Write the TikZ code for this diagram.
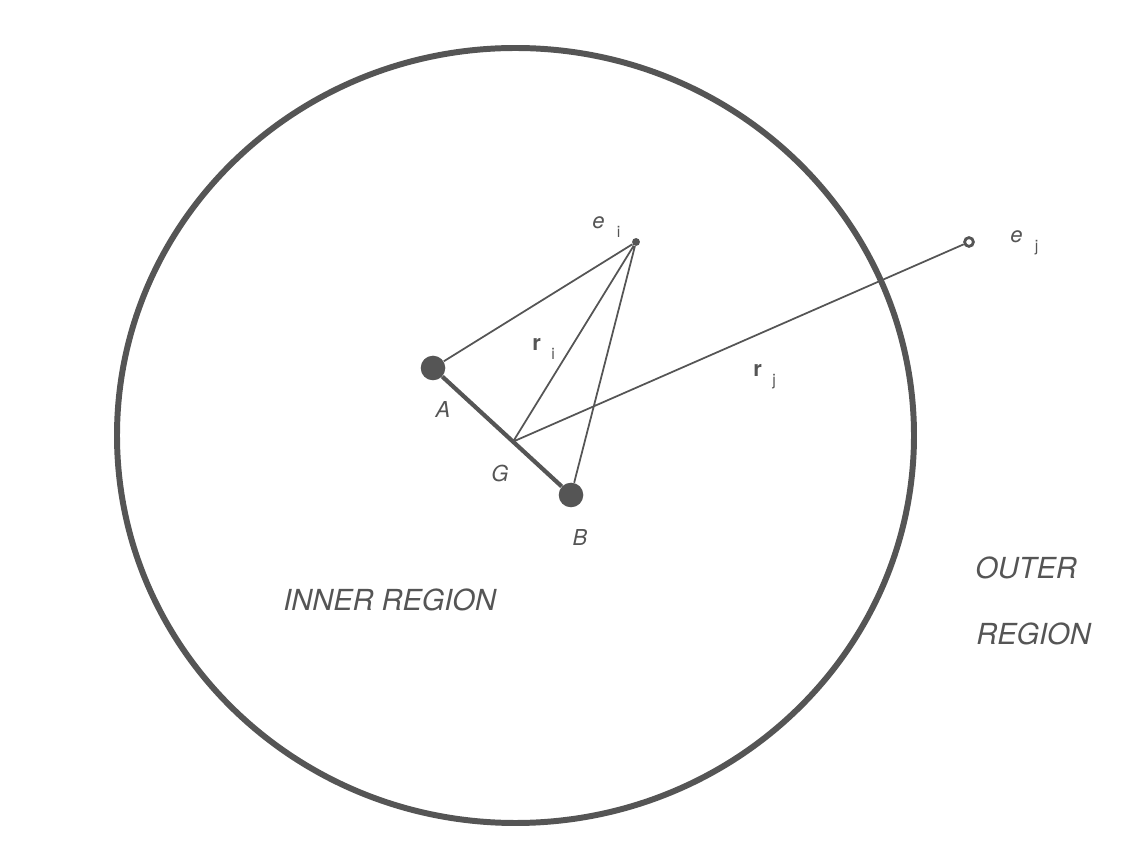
\documentclass[tikz,border=0pt]{standalone}
\usepackage{fontspec}
\setmainfont{TeX Gyre Heros}
\usepackage{xcolor}
\usetikzlibrary{calc}

\begin{document}
\begin{tikzpicture}[x=0.02cm,y=-0.02cm,
  atom/.style={circle,fill=ink,inner sep=0,minimum size=14pt},
  elec/.style={circle,fill=ink,inner sep=0,minimum size=4.5pt},
  lbl/.style={text=ink,font=\fontsize{12.5}{15}\selectfont,inner sep=0},
  region/.style={text=ink,font=\fontsize{16.5}{19}\selectfont\itshape,inner sep=0,anchor=west}]
\definecolor{ink}{HTML}{555555}
\useasboundingbox (0,0) rectangle (1140,864);
\draw[ink,line width=3.4pt] (515.5,435.5) ellipse [x radius=398.5, y radius=387.5];

\node[atom] (A) at (433,368) {};
\node[atom] (B) at (571,495) {};
\node[elec] (ei) at (636,242) {};
\node[circle,draw=ink,fill=white,line width=1.6pt,inner sep=0,minimum size=5pt] (ej) at (969,242) {};
\coordinate (G) at ($(A)!0.58!(B)$);

\draw[ink,line width=2.4pt] (A) -- (B);
\draw[ink,line width=1pt] (ei) -- (A) (ei) -- (G) (ei) -- (B) (G) -- (ej);

% atom and centre labels
\foreach \nm/\pos in {A/{443,409},G/{500,473},B/{580,537}}
  {\node[lbl] (lbl\nm) at (\pos) {\textit{\nm}};}
% labels with subscripts
\foreach \nm/\sub/\gap/\pos in {\textit{e}/i/7/{592,229},\textit{e}/j/7/{1010,243},\textbf{r}/i/6/{532,351},\textbf{r}/j/6/{753,377}}
  {\node[lbl,anchor=base west] (lbl\sub\pos) at (\pos) {\nm\hspace{\gap pt}\raisebox{-5pt}{\small\sub}};}

\node[region] (inner) at (283,600) {INNER REGION};
\node[region] (outer) at (975,568) {OUTER};
\node[region] (outer2) at (976,634) {REGION};
\end{tikzpicture}
\end{document}
